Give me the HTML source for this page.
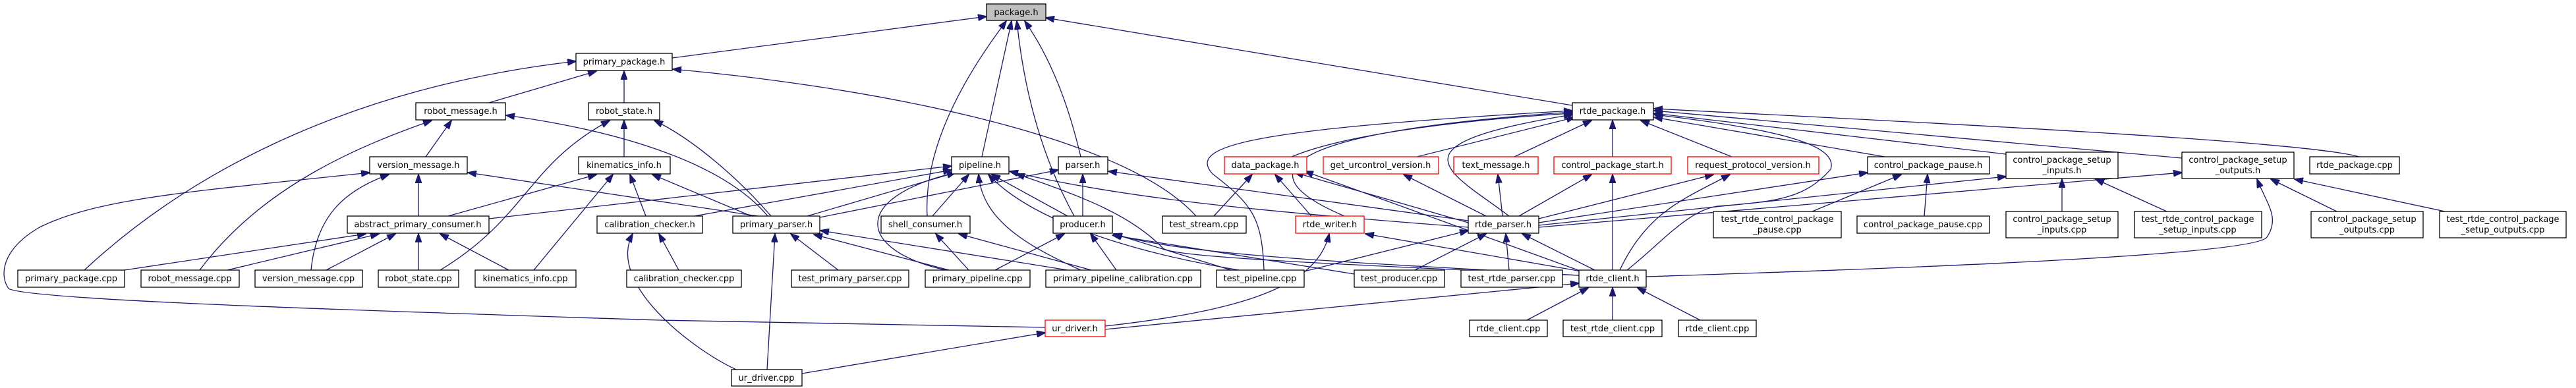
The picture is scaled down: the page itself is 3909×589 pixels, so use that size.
<!DOCTYPE html>
<html><head><meta charset="utf-8"><style>
html,body{margin:0;padding:0;background:#fff;}
svg{display:block;}
text{font-family:"DejaVu Sans","Liberation Sans",sans-serif;font-size:13px;fill:#000;}
.n{fill:#fff;stroke:#000;stroke-width:1.3;}
.r{fill:#fff;stroke:#f00;stroke-width:1.3;}
.e{fill:none;stroke:#191970;stroke-width:1.3;marker-end:url(#a);}
</style></head><body>
<svg width="3909" height="589" viewBox="0 0 3909 589" xmlns="http://www.w3.org/2000/svg">
<defs><marker id="a" markerUnits="userSpaceOnUse" markerWidth="14" markerHeight="10" refX="13" refY="5" orient="auto"><path d="M0,0 L14,5 L0,10 z" fill="#191970" stroke="#191970"/></marker></defs>
<g>
<path class="e" d="M1020,88 L1497,25"/>
<path class="e" d="M2386,160 L1587,27"/>
<path class="e" d="M1490,238 L1535,32"/>
<path class="e" d="M1640,238 Q1610,110 1555,32"/>
<path class="e" d="M1407,328 Q1400,200 1527,32"/>
<path class="e" d="M1630,328 Q1560,200 1543,32"/>
<path class="e" d="M742,156 L905,108"/>
<path class="e" d="M947,156 L947,108"/>
<path class="e" d="M128,410 C300,250 550,130 874,93"/>
<path class="e" d="M1815,328 C1700,200 1300,130 1021,105"/>
<path class="e" d="M646,238 L685,183"/>
<path class="e" d="M303,410 C400,280 550,220 655,183"/>
<path class="e" d="M1165,328 C1100,250 950,200 768,175"/>
<path class="e" d="M947,238 L947,183"/>
<path class="e" d="M668,410 C800,330 800,250 925,183"/>
<path class="e" d="M1170,328 C1120,270 1050,210 993,183"/>
<path class="e" d="M635,328 L635,265"/>
<path class="e" d="M472,410 C480,330 520,290 590,265"/>
<path class="e" d="M1586,497 L1000,486 C500,470 40,455 13,438 C0,420 0,380 60,345 C150,300 300,290 561,262"/>
<path class="e" d="M1150,328 L710,262"/>
<path class="e" d="M680,328 L905,265"/>
<path class="e" d="M810,410 L930,265"/>
<path class="e" d="M980,328 L956,265"/>
<path class="e" d="M1140,328 L990,265"/>
<path class="e" d="M189,410 L555,355"/>
<path class="e" d="M345,410 L575,355"/>
<path class="e" d="M495,410 L600,355"/>
<path class="e" d="M635,410 L635,355"/>
<path class="e" d="M772,410 L668,355"/>
<path class="e" d="M742,332 L1444,252"/>
<path class="e" d="M1030,410 L1000,355"/>
<path class="e" d="M1117,561 C1050,530 920,430 960,355"/>
<path class="e" d="M1054,328 L1444,258"/>
<path class="e" d="M1225,328 L1450,262"/>
<path class="e" d="M1415,328 L1470,265"/>
<path class="e" d="M1435,410 C1300,380 1290,300 1450,262"/>
<path class="e" d="M1640,410 C1550,370 1490,330 1485,265"/>
<path class="e" d="M1620,328 L1505,265"/>
<path class="e" d="M2228,345 C1900,320 1700,300 1532,260"/>
<path class="e" d="M2396,418 C2000,400 1780,390 1765,377 C1720,330 1650,300 1542,264"/>
<path class="e" d="M1880,410 C1700,380 1560,330 1500,265"/>
<path class="e" d="M1244,330 L1606,258"/>
<path class="e" d="M1643,328 L1643,265"/>
<path class="e" d="M2228,335 L1682,260"/>
<path class="e" d="M1272,410 L1200,355"/>
<path class="e" d="M1440,410 L1235,356"/>
<path class="e" d="M1620,410 L1245,350"/>
<path class="e" d="M1164,561 L1176,355"/>
<path class="e" d="M1470,410 L1420,355"/>
<path class="e" d="M1656,410 L1455,355"/>
<path class="e" d="M1510,410 L1615,355"/>
<path class="e" d="M1694,410 L1655,355"/>
<path class="e" d="M1868,410 L1690,355"/>
<path class="e" d="M2396,418 C2100,400 1800,390 1690,355"/>
<path class="e" d="M2055,416 L1688,357"/>
<path class="e" d="M1960,238 C2050,200 2250,180 2386,172"/>
<path class="e" d="M2150,238 L2390,178"/>
<path class="e" d="M2298,238 L2415,183"/>
<path class="e" d="M2447,238 L2447,183"/>
<path class="e" d="M2628,238 L2490,183"/>
<path class="e" d="M2860,238 L2510,178"/>
<path class="e" d="M3044,234 L2510,172"/>
<path class="e" d="M3311,240 L2510,168"/>
<path class="e" d="M3580,238 C3500,215 3000,190 2510,165"/>
<path class="e" d="M2290,328 C2200,260 2100,220 2386,174"/>
<path class="e" d="M2040,328 C1880,260 1950,200 2386,170"/>
<path class="e" d="M2469,410 C2520,370 2560,320 2606,313 C2700,306 2740,300 2778,257 C2790,220 2700,196 2510,174"/>
<path class="e" d="M1918,410 C1915,330 1900,310 1840,264 C1800,220 1900,196 2386,168"/>
<path class="e" d="M1842,328 L1900,265"/>
<path class="e" d="M1990,328 L1935,265"/>
<path class="e" d="M2228,338 L1965,262"/>
<path class="e" d="M2400,412 L1980,260"/>
<path class="e" d="M2255,328 L2130,265"/>
<path class="e" d="M2280,328 L2273,265"/>
<path class="e" d="M2305,328 L2415,265"/>
<path class="e" d="M2447,410 L2447,265"/>
<path class="e" d="M2335,332 L2600,265"/>
<path class="e" d="M2458,410 C2500,320 2560,300 2625,265"/>
<path class="e" d="M2335,338 L2834,262"/>
<path class="e" d="M2750,321 L2885,265"/>
<path class="e" d="M2920,328 L2925,265"/>
<path class="e" d="M2335,342 L3044,268"/>
<path class="e" d="M3129,321 L3129,272"/>
<path class="e" d="M3288,321 L3180,272"/>
<path class="e" d="M2335,345 L3311,262"/>
<path class="e" d="M3546,321 L3446,272"/>
<path class="e" d="M3710,321 L3482,272"/>
<path class="e" d="M2498,420 C2800,410 3420,390 3440,360 C3460,330 3440,310 3425,272"/>
<path class="e" d="M2147,410 L2255,355"/>
<path class="e" d="M2290,410 L2285,355"/>
<path class="e" d="M2420,410 L2310,355"/>
<path class="e" d="M1979,412 L2228,350"/>
<path class="e" d="M2400,412 L2072,355"/>
<path class="e" d="M1677,495 C1900,470 2000,430 2017,355"/>
<path class="e" d="M2317,486 L2410,437"/>
<path class="e" d="M2447,486 L2447,437"/>
<path class="e" d="M2580,486 L2485,437"/>
<path class="e" d="M1677,500 L2396,430"/>
<path class="e" d="M1217,567 L1586,505"/>
</g>
<g>
<rect x="1497" y="6" width="90" height="25" fill="#bfbfbf" stroke="#000" stroke-width="1.3"/><text x="1542" y="23" text-anchor="middle">package.h</text>
<rect class="n" x="874" y="81" width="146" height="26"/><text x="947" y="98" text-anchor="middle">primary_package.h</text>
<rect class="n" x="631" y="156" width="136" height="26"/><text x="699" y="173" text-anchor="middle">robot_message.h</text>
<rect class="n" x="893" y="156" width="108" height="26"/><text x="947" y="173" text-anchor="middle">robot_state.h</text>
<rect class="n" x="561" y="238" width="148" height="26"/><text x="635" y="255" text-anchor="middle">version_message.h</text>
<rect class="n" x="878" y="238" width="139" height="26"/><text x="947" y="255" text-anchor="middle">kinematics_info.h</text>
<rect class="n" x="527" y="328" width="215" height="26"/><text x="634" y="345" text-anchor="middle">abstract_primary_consumer.h</text>
<rect class="n" x="906" y="328" width="160" height="26"/><text x="986" y="345" text-anchor="middle">calibration_checker.h</text>
<rect class="n" x="27" y="410" width="162" height="26"/><text x="108" y="427" text-anchor="middle">primary_package.cpp</text>
<rect class="n" x="214" y="410" width="149" height="26"/><text x="288" y="427" text-anchor="middle">robot_message.cpp</text>
<rect class="n" x="387" y="410" width="163" height="26"/><text x="468" y="427" text-anchor="middle">version_message.cpp</text>
<rect class="n" x="574" y="410" width="122" height="26"/><text x="635" y="427" text-anchor="middle">robot_state.cpp</text>
<rect class="n" x="721" y="410" width="153" height="26"/><text x="797" y="427" text-anchor="middle">kinematics_info.cpp</text>
<rect class="n" x="951" y="410" width="174" height="26"/><text x="1038" y="427" text-anchor="middle">calibration_checker.cpp</text>
<rect class="n" x="1444" y="238" width="87" height="26"/><text x="1487" y="255" text-anchor="middle">pipeline.h</text>
<rect class="n" x="1606" y="238" width="75" height="26"/><text x="1643" y="255" text-anchor="middle">parser.h</text>
<rect class="r" x="1858" y="238" width="125" height="26"/><text x="1920" y="255" text-anchor="middle">data_package.h</text>
<rect class="n" x="1112" y="328" width="132" height="26"/><text x="1178" y="345" text-anchor="middle">primary_parser.h</text>
<rect class="n" x="1337" y="328" width="135" height="26"/><text x="1404" y="345" text-anchor="middle">shell_consumer.h</text>
<rect class="n" x="1598" y="328" width="90" height="26"/><text x="1643" y="345" text-anchor="middle">producer.h</text>
<rect class="n" x="1764" y="328" width="127" height="26"/><text x="1827" y="345" text-anchor="middle">test_stream.cpp</text>
<rect class="r" x="1966" y="328" width="104" height="26"/><text x="2018" y="345" text-anchor="middle">rtde_writer.h</text>
<rect class="n" x="1201" y="410" width="178" height="26"/><text x="1290" y="427" text-anchor="middle">test_primary_parser.cpp</text>
<rect class="n" x="1404" y="410" width="159" height="26"/><text x="1483" y="427" text-anchor="middle">primary_pipeline.cpp</text>
<rect class="n" x="1587" y="410" width="235" height="26"/><text x="1704" y="427" text-anchor="middle">primary_pipeline_calibration.cpp</text>
<rect class="n" x="1846" y="410" width="133" height="26"/><text x="1912" y="427" text-anchor="middle">test_pipeline.cpp</text>
<rect class="r" x="1586" y="486" width="91" height="25"/><text x="1631" y="503" text-anchor="middle">ur_driver.h</text>
<rect class="n" x="1110" y="561" width="107" height="25"/><text x="1163" y="578" text-anchor="middle">ur_driver.cpp</text>
<rect class="n" x="2386" y="156" width="123" height="26"/><text x="2447" y="173" text-anchor="middle">rtde_package.h</text>
<rect class="r" x="2008" y="238" width="175" height="26"/><text x="2095" y="255" text-anchor="middle">get_urcontrol_version.h</text>
<rect class="r" x="2206" y="238" width="128" height="26"/><text x="2270" y="255" text-anchor="middle">text_message.h</text>
<rect class="r" x="2358" y="238" width="178" height="26"/><text x="2447" y="255" text-anchor="middle">control_package_start.h</text>
<rect class="r" x="2561" y="238" width="199" height="26"/><text x="2660" y="255" text-anchor="middle">request_protocol_version.h</text>
<rect class="n" x="2834" y="238" width="185" height="26"/><text x="2926" y="255" text-anchor="middle">control_package_pause.h</text>
<rect class="n" x="2228" y="328" width="107" height="26"/><text x="2281" y="345" text-anchor="middle">rtde_parser.h</text>
<rect class="n" x="2600" y="321" width="194" height="40"/><text x="2697" y="337" text-anchor="middle">test_rtde_control_package</text><text x="2697" y="353" text-anchor="middle">_pause.cpp</text>
<rect class="n" x="2818" y="328" width="201" height="26"/><text x="2918" y="345" text-anchor="middle">control_package_pause.cpp</text>
<rect class="n" x="2055" y="410" width="137" height="26"/><text x="2123" y="427" text-anchor="middle">test_producer.cpp</text>
<rect class="n" x="2217" y="410" width="154" height="26"/><text x="2294" y="427" text-anchor="middle">test_rtde_parser.cpp</text>
<rect class="n" x="2396" y="410" width="102" height="26"/><text x="2447" y="427" text-anchor="middle">rtde_client.h</text>
<rect class="n" x="2230" y="486" width="118" height="25"/><text x="2289" y="503" text-anchor="middle">rtde_client.cpp</text>
<rect class="n" x="2372" y="486" width="150" height="25"/><text x="2447" y="503" text-anchor="middle">test_rtde_client.cpp</text>
<rect class="n" x="2547" y="486" width="118" height="25"/><text x="2606" y="503" text-anchor="middle">rtde_client.cpp</text>
<rect class="n" x="3044" y="231" width="170" height="40"/><text x="3129" y="247" text-anchor="middle">control_package_setup</text><text x="3129" y="263" text-anchor="middle">_inputs.h</text>
<rect class="n" x="3311" y="231" width="170" height="40"/><text x="3396" y="247" text-anchor="middle">control_package_setup</text><text x="3396" y="263" text-anchor="middle">_outputs.h</text>
<rect class="n" x="3505" y="238" width="136" height="26"/><text x="3573" y="255" text-anchor="middle">rtde_package.cpp</text>
<rect class="n" x="3044" y="321" width="170" height="40"/><text x="3129" y="337" text-anchor="middle">control_package_setup</text><text x="3129" y="353" text-anchor="middle">_inputs.cpp</text>
<rect class="n" x="3239" y="321" width="193" height="40"/><text x="3335" y="337" text-anchor="middle">test_rtde_control_package</text><text x="3335" y="353" text-anchor="middle">_setup_inputs.cpp</text>
<rect class="n" x="3507" y="321" width="170" height="40"/><text x="3592" y="337" text-anchor="middle">control_package_setup</text><text x="3592" y="353" text-anchor="middle">_outputs.cpp</text>
<rect class="n" x="3702" y="321" width="192" height="40"/><text x="3798" y="337" text-anchor="middle">test_rtde_control_package</text><text x="3798" y="353" text-anchor="middle">_setup_outputs.cpp</text>
</g>
</svg>
</body></html>
